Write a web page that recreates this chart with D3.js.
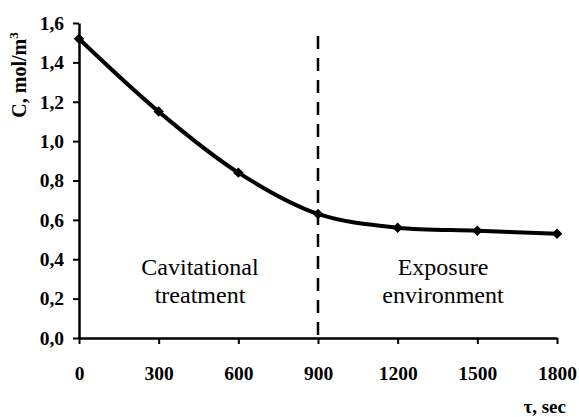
<!DOCTYPE html>
<html>
<head>
<meta charset="utf-8">
<script src="https://cdn.jsdelivr.net/npm/d3@7"></script>
<style>
  body { margin: 0; background: #fff; }
</style>
</head>
<body>
<svg width="579" height="417"></svg>
<script>
// time, sec
let times = [0, 300, 600, 900, 1200, 1500, 1800]
// concentration, mol/m3
let conc = [1.52, 1.15, 0.84, 0.63, 0.56, 0.545, 0.53]
let xTicks = [0, 300, 600, 900, 1200, 1500, 1800]
let yTicks = [0, 0.2, 0.4, 0.6, 0.8, 1.0, 1.2, 1.4, 1.6]
let boundary = 900

let serif = '"Liberation Serif"'
let data = times.map((t, i) => ({ t: t, c: conc[i] }))

let margin = { top: 23, right: 22, bottom: 79, left: 79 }
let width = 579
let height = 417

let x = d3.scaleLinear()
  .domain([0, 1800])
  .range([margin.left, width - margin.right])

let y = d3.scaleLinear()
  .domain([0, 1.6])
  .range([height - margin.bottom, margin.top])

const svg = d3.select('svg')

let fmt = d => d3.format('.1f')(d).replace('.', ',')

// y axis
let yAxis = svg.append('g')
  .attr('transform', `translate(${margin.left},0)`)
  .call(d3.axisLeft(y).tickValues(yTicks).tickFormat(fmt).tickSize(6).tickSizeOuter(0).tickPadding(9))
yAxis.attr('font-family', null).attr('font-size', null)
yAxis.select('.domain').attr('stroke-width', 2.5)
yAxis.selectAll('.tick line').attr('stroke-width', 2)
yAxis.selectAll('text')
  .style('font-family', serif)
  .style('font-size', '19.5px')
  .style('font-weight', 'bold')

// x axis
let xAxis = svg.append('g')
  .attr('transform', `translate(0,${height - margin.bottom})`)
  .call(d3.axisBottom(x).tickValues(xTicks).tickFormat(d3.format('d')).tickSize(6).tickSizeOuter(0).tickPadding(22))
xAxis.attr('font-family', null).attr('font-size', null)
xAxis.select('.domain').attr('stroke-width', 2.5)
xAxis.selectAll('.tick line').attr('stroke-width', 2)
xAxis.selectAll('text')
  .style('font-family', serif)
  .style('font-size', '19.5px')
  .style('font-weight', 'bold')

// boundary between the two stages
svg.append('line')
  .attr('x1', x(boundary))
  .attr('x2', x(boundary))
  .attr('y1', 36)
  .attr('y2', y(0))
  .attr('stroke', '#000')
  .attr('stroke-width', 2.5)
  .attr('stroke-dasharray', '13,9')

// the curve
let line = d3.line()
  .x(d => x(d.t))
  .y(d => y(d.c))
  .curve(d3.curveCatmullRom.alpha(0.5))

svg.append('path')
  .datum(data)
  .attr('fill', 'none')
  .attr('stroke', '#000')
  .attr('stroke-width', 4)
  .attr('d', line)

svg.append('g')
  .selectAll('path')
  .data(data)
  .enter()
  .append('path')
  .attr('transform', d => `translate(${x(d.t)},${y(d.c)})`)
  .attr('d', d3.symbol().type(d3.symbolDiamond2).size(70))
  .attr('fill', '#000')

// stage labels
let stages = [
  { lines: ['Cavitational', 'treatment'], cx: 200 },
  { lines: ['Exposure', 'environment'], cx: 443 }
]
stages.forEach(s => {
  s.lines.forEach((l, i) => {
    svg.append('text')
      .attr('x', s.cx)
      .attr('y', 275 + i * 28)
      .attr('text-anchor', 'middle')
      .style('font-family', serif)
      .style('font-size', '24px')
      .text(l)
  })
})

// axis titles
let yTitle = svg.append('text')
  .attr('transform', 'translate(26,75) rotate(-90)')
  .attr('text-anchor', 'middle')
  .style('font-family', serif)
  .style('font-size', '20px')
  .style('font-weight', 'bold')
yTitle.append('tspan').text('C, mol/m')
yTitle.append('tspan').attr('dy', -8).style('font-size', '13px').text('3')

svg.append('text')
  .attr('x', 566)
  .attr('y', 413)
  .attr('text-anchor', 'end')
  .style('font-family', serif)
  .style('font-size', '19px')
  .style('font-weight', 'bold')
  .text('τ, sec')
</script>
</body>
</html>
